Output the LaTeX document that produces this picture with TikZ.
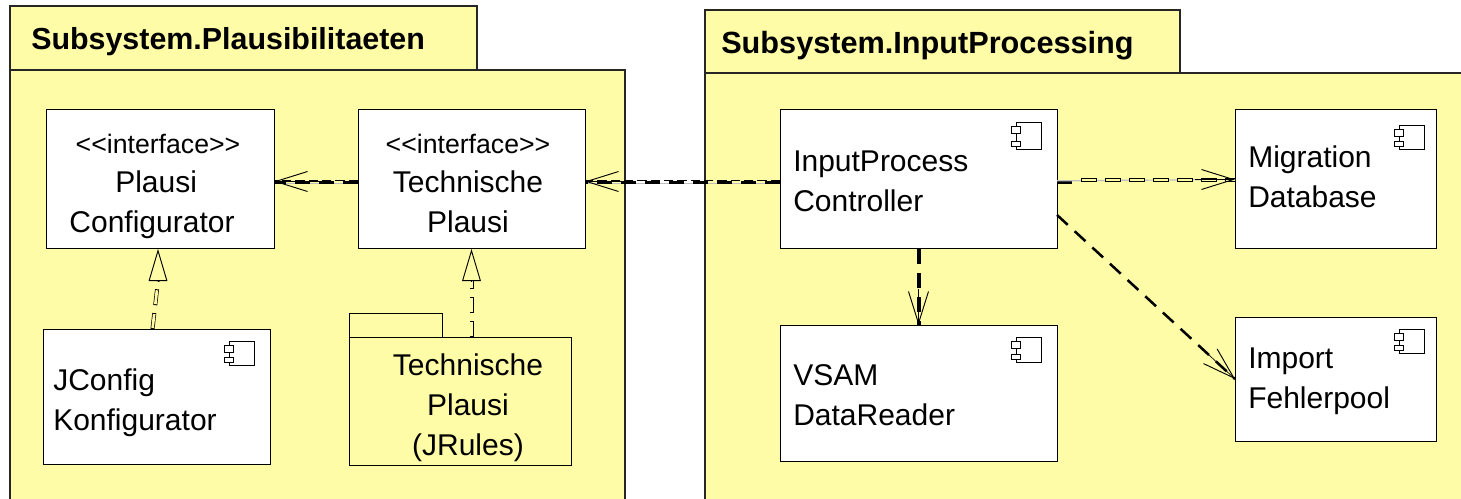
\documentclass[tikz,border=0pt]{standalone}
\usepackage{fontspec}
\setmainfont{Liberation Sans}
\usetikzlibrary{arrows.meta,calc}
\definecolor{pkgyellow}{HTML}{FFFCA8}
\newcommand{\compicon}[4]{% x0 y0 x1 y1 of the icon body
  \draw[iconline,fill=white] (#1,#2) rectangle (#3,#4);
  \draw[iconline,fill=white] (#1-4.5,#2+4) rectangle (#1+4.5,#2+11);
  \draw[iconline,fill=white] (#1-4.5,#4-8) rectangle (#1+4.5,#4-3);
}
\tikzset{
  x=0.75pt,y=-0.75pt,
  pkg/.style={draw=black!85,fill=pkgyellow,line width=0.8pt},
  whitebox/.style={draw=black,fill=white,line width=0.75pt,inner sep=0pt,outer sep=0pt},
  yellowbox/.style={draw=black,fill=pkgyellow,line width=0.75pt,inner sep=0pt,outer sep=0pt},
  iconline/.style={draw=black,line width=0.5pt},
  title/.style={font=\fontsize{#1}{30}\selectfont\bfseries,inner sep=0pt,anchor=base west},
  ltxt/.style={font=\fontsize{22.5}{30}\selectfont,inner sep=0pt,align=left,anchor=base west},
  ctxt/.style={font=\fontsize{22.5}{30}\selectfont,inner sep=0pt,align=center,anchor=base},
  stereo/.style={font=\fontsize{20}{20}\selectfont,inner sep=0pt,anchor=base},
  open barb/.style={-{Straight Barb[length=24pt,width=15pt,line width=0.7pt]}},
  hollow/.style={-{Triangle[open,length=24pt,width=14pt,fill=pkgyellow,line width=0.7pt]}},
  depthick/.style={draw=black,line width=2.6pt,dash pattern=on 11pt off 7pt},
  depthinline/.style={draw=black,line width=0.5pt,dash pattern=on 7pt off 3pt},
  depunder/.style={draw=black!25,line width=0.9pt},
  depthin/.style={draw=black,line width=3pt,dash pattern=on 12pt off 6pt,
    postaction={draw=pkgyellow,line width=2pt,dash pattern=on 10.5pt off 7.5pt,dash phase=17.25pt}},
}
\begin{document}
\begin{tikzpicture}
\useasboundingbox (0,0) rectangle (1461,499);
% packages
\draw[pkg] (10,6) rectangle (477,70);
\draw[pkg] (10,70) rectangle (625,520);
\draw[pkg] (705,10) rectangle (1180,73);
\draw[pkg] (705,73) rectangle (1480,520);
\node[title=22.8] (t1) at (31,50) {Subsystem.Plausibilitaeten};
\node[title=23] (t2) at (721,54) {Subsystem.InputProcessing};
% boxes
\node[whitebox,minimum width=171pt,minimum height=104.25pt] (pc) at (160,179.5) {};
\node[whitebox,minimum width=170.25pt,minimum height=104.25pt] (tp) at (471.5,179.5) {};
\node[whitebox,minimum width=170.25pt,minimum height=101.25pt] (jc) at (156.5,396.5) {};
\node[yellowbox,minimum width=69.75pt,minimum height=18pt] (pkgtab) at (395.5,325) {};
\node[yellowbox,minimum width=166.5pt,minimum height=96pt] (jr) at (460,401) {};
\node[whitebox,minimum width=207.75pt,minimum height=104.25pt] (ip) at (918.5,179.5) {};
\node[whitebox,minimum width=207.75pt,minimum height=102pt] (vs) at (918.5,393) {};
\node[whitebox,minimum width=150.75pt,minimum height=104.25pt] (mg) at (1335.5,179.5) {};
\node[whitebox,minimum width=150.75pt,minimum height=93pt] (im) at (1335.5,379) {};
% icons
\compicon{229}{341}{254}{365}
\compicon{1016}{122}{1041}{149}
\compicon{1016}{337}{1041}{362}
\compicon{1399}{125}{1424}{149}
\compicon{1399}{329}{1424}{353}
% texts
\node[stereo] (s1) at (158,154) {{<}{<}interface{>}{>}};
\node[ctxt] (l1) at (152,233) {\hphantom{.}Plausi\\Configurator};
\node[stereo] (s2) at (468,154) {{<}{<}interface{>}{>}};
\node[ctxt] (l2) at (468,233) {Technische\\Plausi};
\node[ltxt] (l3) at (53,430) {JConfig\\Konfigurator};
\node[ctxt] (l4) at (468,455) {Technische\\Plausi\\(JRules)};
\node[ltxt] (l5) at (793,212) {InputProcess\\Controller};
\node[ltxt] (l6) at (793,425) {VSAM\\DataReader};
\node[ltxt] (l7) at (1248,208) {Migration\\Database};
\node[ltxt] (l8) at (1248,408) {Import\\Fehlerpool};
% connectors
\draw[depunder] ([yshift=-3.2pt]tp.west) -- ([yshift=-3.2pt]pc.east);
\draw[depthick] ([yshift=-2.2pt]tp.west) -- ([yshift=-2.2pt]pc.east);
\draw[depthinline] ([yshift=-1pt]tp.west) -- ([yshift=-1pt]pc.east);
\draw[open barb,line width=0.5pt] ([xshift=-20pt,yshift=-1.5pt]tp.west) -- ([yshift=-1.5pt]pc.east);
\draw[depunder] ([yshift=-3.2pt]ip.west) -- ([yshift=-3.2pt]tp.east);
\draw[depthick] ([yshift=-2.2pt]ip.west) -- ([yshift=-2.2pt]tp.east);
\draw[depthinline] ([yshift=-1pt]ip.west) -- ([yshift=-1pt]tp.east);
\draw[open barb,line width=0.5pt] ([xshift=30pt,yshift=-1.5pt]tp.east) -- ([yshift=-1.5pt]tp.east);
\draw[depthick,line width=3pt] (ip.south) -- (vs.north);
\draw[open barb,line width=0.5pt] ([yshift=-30pt]ip.south) -- (vs.north);
\draw[depthick,line width=1.9pt] ([yshift=-26.6pt]ip.east) -- (im.west);
\draw[open barb,line width=0.5pt] ($(im.west)!0.2!([yshift=-26.6pt]ip.east)$) -- (im.west);
\draw[draw=black,line width=2.8pt] ([yshift=-2.2pt]ip.east) -- ++(15,0);
\draw[depunder] ([yshift=-1pt]ip.east) -- (mg.west);
\draw[depthin] ([xshift=18pt,yshift=-0.3pt]ip.east) -- ([yshift=-0.3pt]mg.west);
\draw[open barb,line width=0.5pt] ([xshift=-30pt]mg.west) -- (mg.west);
\draw[depthin] ([xshift=-3pt]jc.north) -- ([xshift=-1.5pt,yshift=-24pt]pc.south);
\draw[depthin] (jr.north -| tp.south) -- ([yshift=-24pt]tp.south);
\draw[hollow,draw=black] ([xshift=-1.5pt,yshift=-24.5pt]pc.south) -- ([xshift=-1.5pt]pc.south);
\draw[hollow,draw=black] ([yshift=-24.5pt]tp.south) -- (tp.south);
\end{tikzpicture}
\end{document}
